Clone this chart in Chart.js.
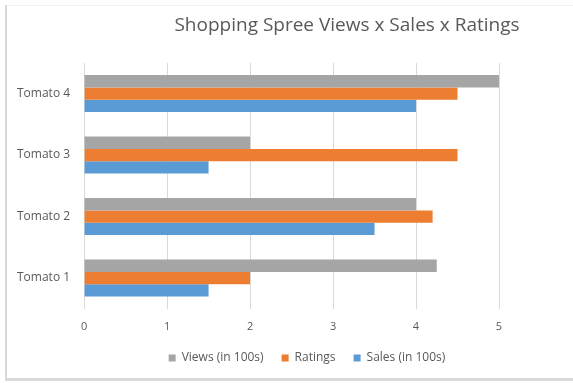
<!DOCTYPE html>
<html><head><meta charset="utf-8">
<script src="https://cdn.jsdelivr.net/npm/chart.js@4.4.1/dist/chart.umd.min.js"></script>
<style>html,body{margin:0;padding:0;background:#fff}#wrap{width:573px;height:383px;position:relative}</style>
</head><body><div id="wrap"><canvas id="c" width="573" height="383"></canvas></div>
<script>
const categories = ["Tomato 1", "Tomato 2", "Tomato 3", "Tomato 4"];
const salesValues = [1.5, 3.5, 1.5, 4];
const ratingsValues = [2, 4.2, 4.5, 4.5];
const viewsValues = [4.25, 4, 2, 5];
const xTicks = [0, 1, 2, 3, 4, 5];
const titleText = "Shopping Spree Views x Sales x Ratings";

const TXT = "#595959";
const FONT = "'Open Sans', sans-serif";

const framePlugin = {
  id: "frame",
  beforeDraw(chart) {
    const ctx = chart.ctx;
    ctx.save();
    ctx.fillStyle = "#ffffff";
    ctx.fillRect(0, 0, chart.width, chart.height);
    ctx.fillStyle = "#f0f0f0";
    ctx.fillRect(5, 5, chart.width - 5, 1);
    ctx.fillStyle = "#d9d9d9";
    ctx.fillRect(5, 5, 2, 375);
    ctx.fillRect(5, 378, chart.width - 5, 3);
    ctx.restore();
  },
  afterLayout(chart) {
    if (chart.legend) { chart.legend.left += 56; chart.legend.right += 56; chart.legend.top -= 10; chart.legend.bottom -= 10; }
    if (chart.titleBlock) { chart.titleBlock.left += 96; chart.titleBlock.right += 96; }
  }
};

new Chart(document.getElementById("c"), {
  type: "bar",
  data: {
    labels: categories,
    datasets: [
      { label: "Views (in 100s)", data: viewsValues, backgroundColor: "#a5a5a5" },
      { label: "Ratings", data: ratingsValues, backgroundColor: "#ed7d31" },
      { label: "Sales (in 100s)", data: salesValues, backgroundColor: "#5b9bd5" }
    ]
  },
  options: {
    indexAxis: "y",
    responsive: false,
    animation: false,
    devicePixelRatio: 1,
    datasets: { bar: { barPercentage: 1, categoryPercentage: 0.6 } },
    layout: { padding: { left: 3, right: 74, top: 12, bottom: -1 } },
    scales: {
      x: {
        min: 0, max: 5,
        afterBuildTicks(axis) { axis.ticks = xTicks.map(v => ({ value: v })); },
        grid: { color: "#d9d9d9", drawTicks: false },
        border: { display: false },
        ticks: { color: TXT, font: { family: FONT, size: 11 }, padding: 11 }
      },
      y: {
        reverse: true,
        grid: { display: false, drawTicks: false },
        border: { display: false },
        ticks: { color: TXT, font: { family: FONT, size: 12 }, padding: 14 }
      }
    },
    plugins: {
      title: {
        display: true, text: titleText, color: TXT,
        font: { family: FONT, size: 19, weight: "normal" },
        padding: { top: 2, bottom: 26 }
      },
      legend: {
        position: "bottom",
        labels: {
          color: TXT, font: { family: FONT, size: 12 },
          boxWidth: 7, boxHeight: 7, padding: 18
        }
      },
      tooltip: { enabled: false }
    }
  },
  plugins: [framePlugin]
});
</script></body></html>
